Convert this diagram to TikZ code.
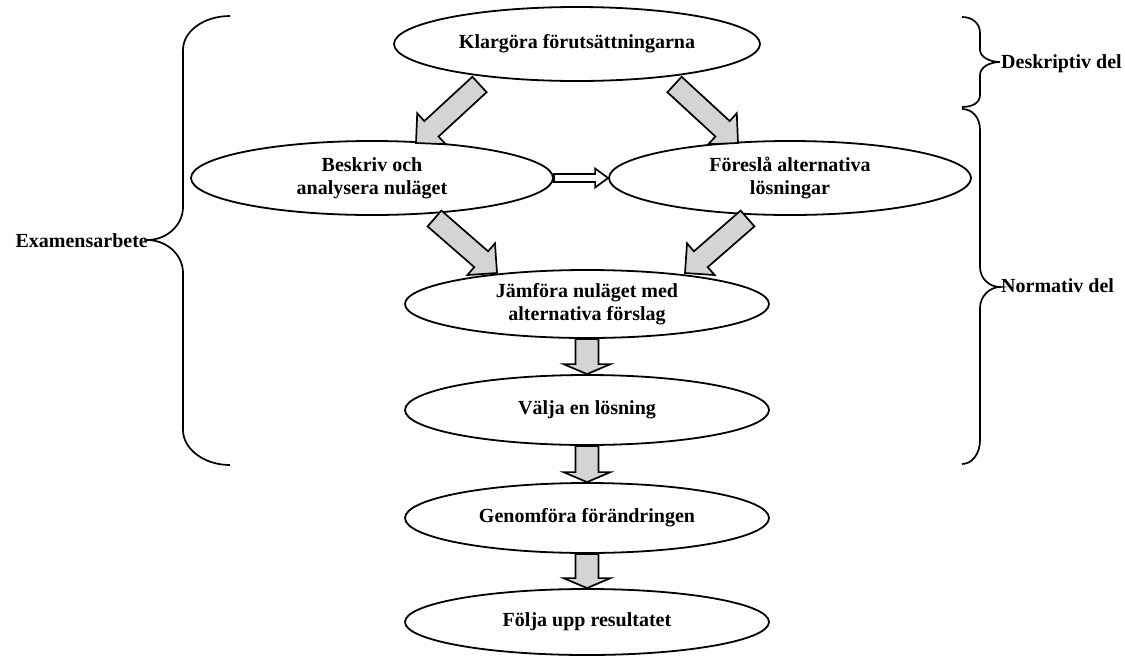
\documentclass[tikz,border=0pt]{standalone}
\usepackage{fontspec}
\setmainfont{Liberation Serif}
\usetikzlibrary{shapes.geometric,calc}

% Block arrow from #2 (tail) to #3 (tip): #4 half shaft width,
% #5 half head width, #6 head length, #1 style
\newcommand{\fatarrow}[6]{%
  \draw[#1] ($(#2)!#4!90:(#3)$)
    -- ($(#3)!#6!(#2)!#4!-90:(#2)$)
    -- ($(#3)!#6!(#2)!#5!-90:(#2)$)
    -- (#3)
    -- ($(#3)!#6!(#2)!#5!90:(#2)$)
    -- ($(#3)!#6!(#2)!#4!90:(#2)$)
    -- ($(#2)!#4!-90:(#3)$) -- cycle;}

\tikzset{
  txt/.style={font=\bfseries\fontsize{20}{23}\selectfont},
  ell/.style={ellipse, draw, line width=1.8pt, inner sep=0pt, align=center, txt},
  grayarrow/.style={draw, line width=1.7pt, fill=black!17, line join=miter},
  whitearrow/.style={draw, line width=1.7pt, fill=white, line join=miter},
  brace/.style={line width=1.7pt},
  lbl/.style={txt, inner sep=0pt}
}

\begin{document}
\begin{tikzpicture}[x=1pt, y=-1pt]
\useasboundingbox (0,0) rectangle (1125,657);

% process steps
\node[ell, minimum width=366pt, minimum height=74pt] (top) at (577,44) {Klargöra förutsättningarna};
\node[ell, minimum width=362pt, minimum height=74pt] (besk) at (372,178) {Beskriv och\\analysera nuläget};
\node[ell, minimum width=362pt, minimum height=74pt] (fores) at (790,178) {Föreslå alternativa\\lösningar};
\node[ell, minimum width=364pt, minimum height=68pt] (jam) at (587,304) {Jämföra nuläget med\\alternativa förslag};
\node[ell, minimum width=364pt, minimum height=70pt] (valja) at (587,410) {Välja en lösning};
\node[ell, minimum width=364pt, minimum height=70pt] (genom) at (587,518) {Genomföra förändringen};
\node[ell, minimum width=364pt, minimum height=66pt] (folja) at (587,622) {Följa upp resultatet};

% ends of the diagonal arrows
\coordinate (t1) at (479.5,84.5);  \coordinate (h1) at (416,143);
\coordinate (t2) at (674.5,84.5);  \coordinate (h2) at (738,143);
\coordinate (t3) at (434.5,218.5); \coordinate (h3) at (497,273);
\coordinate (t4) at (747.5,218.5); \coordinate (h4) at (685,273);

\fatarrow{grayarrow}{t1}{h1}{10.5pt}{21pt}{21pt}
\fatarrow{grayarrow}{t2}{h2}{10.5pt}{21pt}{21pt}
\fatarrow{grayarrow}{t3}{h3}{10.5pt}{21pt}{21pt}
\fatarrow{grayarrow}{t4}{h4}{10.5pt}{21pt}{21pt}

\fatarrow{whitearrow}{besk.east}{fores.west}{4pt}{9.5pt}{13pt}

\fatarrow{grayarrow}{jam.south}{valja.north}{11.5pt}{23.5pt}{10pt}
\fatarrow{grayarrow}{valja.south}{genom.north}{11.5pt}{23.5pt}{10pt}
\fatarrow{grayarrow}{genom.south}{folja.north}{11.5pt}{23.5pt}{10pt}

% left brace
\coordinate (examtip) at (147,240);
\draw[brace] (230,16) .. controls (204,16) and (183,31) .. (183,50)
  -- (183,207) .. controls (183,225) and (167,240) .. (examtip)
  .. controls (167,240) and (183,255) .. (183,273)
  -- (183,430) .. controls (183,449) and (204,465) .. (230,465);
\node[lbl, anchor=base east] (exam) at (148,247) {Examensarbete};

% right braces
\coordinate (desktip) at (1000,62);
\draw[brace] (962,17) .. controls (972,17) and (980,23) .. (980,33)
  -- (980,50) .. controls (980,57) and (990,62) .. (desktip)
  .. controls (990,62) and (980,67) .. (980,75)
  -- (980,95) .. controls (980,103) and (972,107) .. (962,107);
\node[lbl, anchor=base west] (desk) at (1001,68) {Deskriptiv del};

\coordinate (normtip) at (1000,287);
\draw[brace] (962,109) .. controls (972,109) and (980,117) .. (980,130)
  -- (980,267) .. controls (980,279) and (990,287) .. (normtip)
  .. controls (990,287) and (980,296) .. (980,308)
  -- (980,440) .. controls (980,454) and (972,464) .. (962,464);
\node[lbl, anchor=base west] (norm) at (1001,292) {Normativ del};
\end{tikzpicture}
\end{document}
